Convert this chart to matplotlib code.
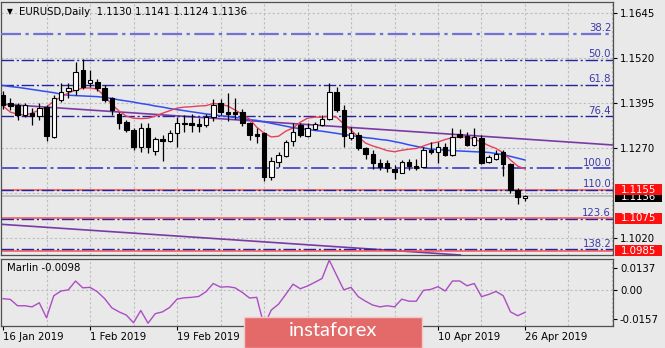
import matplotlib
matplotlib.use("Agg")
import matplotlib.pyplot as plt
import matplotlib.transforms as mtransforms
from matplotlib.patches import Rectangle

# ---- EURUSD daily candles (16 Jan 2019 .. 26 Apr 2019) ----
opens = [1.1417, 1.1395, 1.1389, 1.1362, 1.1367, 1.1359, 1.1385, 1.1301, 1.1403, 1.1429,
         1.1431, 1.1487, 1.1450, 1.1454, 1.1437, 1.1408, 1.1366, 1.1343, 1.1320, 1.1274,
         1.1326, 1.1262, 1.1295, 1.1291, 1.1311, 1.1340, 1.1339, 1.1336, 1.1334, 1.1357,
         1.1394, 1.1371, 1.1369, 1.1371, 1.1339, 1.1309, 1.1311, 1.1190, 1.1232, 1.1249,
         1.1289, 1.1334, 1.1304, 1.1323, 1.1334, 1.1350, 1.1426, 1.1376, 1.1299, 1.1306,
         1.1271, 1.1253, 1.1230, 1.1230, 1.1213, 1.1201, 1.1232, 1.1220, 1.1218, 1.1264,
         1.1260, 1.1272, 1.1251, 1.1309, 1.1303, 1.1278, 1.1297, 1.1232, 1.1241, 1.1260,
         1.1226, 1.1153, 1.1130]
highs = [1.1428, 1.1409, 1.1395, 1.1395, 1.1381, 1.1395, 1.1389, 1.1417, 1.1451, 1.1451,
         1.1509, 1.1517, 1.1487, 1.1462, 1.1445, 1.1412, 1.1371, 1.1348, 1.1326, 1.1339,
         1.1340, 1.1301, 1.1306, 1.1320, 1.1357, 1.1362, 1.1366, 1.1353, 1.1366, 1.1406,
         1.1406, 1.1422, 1.1410, 1.1380, 1.1343, 1.1325, 1.1315, 1.1246, 1.1260, 1.1292,
         1.1339, 1.1339, 1.1339, 1.1343, 1.1362, 1.1450, 1.1440, 1.1389, 1.1329, 1.1315,
         1.1274, 1.1264, 1.1241, 1.1237, 1.1223, 1.1237, 1.1241, 1.1241, 1.1274, 1.1288,
         1.1288, 1.1283, 1.1325, 1.1322, 1.1315, 1.1327, 1.1306, 1.1251, 1.1264, 1.1264,
         1.1229, 1.1160, 1.1141]
lows = [1.1378, 1.1376, 1.1348, 1.1356, 1.1334, 1.1348, 1.1289, 1.1298, 1.1399, 1.1409,
        1.1417, 1.1434, 1.1439, 1.1428, 1.1399, 1.1362, 1.1323, 1.1315, 1.1264, 1.1258,
        1.1256, 1.1251, 1.1234, 1.1288, 1.1274, 1.1315, 1.1315, 1.1315, 1.1329, 1.1345,
        1.1362, 1.1345, 1.1352, 1.1332, 1.1292, 1.1283, 1.1178, 1.1181, 1.1218, 1.1246,
        1.1276, 1.1301, 1.1301, 1.1320, 1.1332, 1.1348, 1.1371, 1.1274, 1.1292, 1.1264,
        1.1241, 1.1213, 1.1209, 1.1204, 1.1183, 1.1200, 1.1209, 1.1209, 1.1216, 1.1255,
        1.1229, 1.1248, 1.1248, 1.1297, 1.1276, 1.1276, 1.1226, 1.1229, 1.1237, 1.1192,
        1.1144, 1.1116, 1.1124]
closes = [1.1389, 1.1388, 1.1362, 1.1389, 1.1359, 1.1381, 1.1304, 1.1409, 1.1426, 1.1437,
          1.1481, 1.1439, 1.1459, 1.1436, 1.1403, 1.1376, 1.1339, 1.1320, 1.1274, 1.1326,
          1.1274, 1.1295, 1.1291, 1.1311, 1.1341, 1.1337, 1.1335, 1.1331, 1.1357, 1.1389,
          1.1369, 1.1366, 1.1364, 1.1339, 1.1306, 1.1304, 1.1190, 1.1234, 1.1251, 1.1286,
          1.1315, 1.1306, 1.1325, 1.1336, 1.1350, 1.1425, 1.1376, 1.1304, 1.1311, 1.1271,
          1.1253, 1.1228, 1.1218, 1.1215, 1.1204, 1.1232, 1.1220, 1.1215, 1.1264, 1.1260,
          1.1272, 1.1251, 1.1300, 1.1301, 1.1278, 1.1300, 1.1228, 1.1246, 1.1253, 1.1226,
          1.1153, 1.1133, 1.1136]

# fast (red) and slow (blue) moving averages
ma_fast = [1.1387, 1.1370, 1.1364, 1.1362, 1.1367, 1.1376, 1.1384, 1.1401, 1.1412, 1.1423,
           1.1431, 1.1437, 1.1437, 1.1434, 1.1414, 1.1392, 1.1373, 1.1359, 1.1353, 1.1352,
           1.1353, 1.1359, 1.1367, 1.1374, 1.1381, 1.1384, 1.1385, 1.1387, 1.1388, 1.1394,
           1.1392, 1.1387, 1.1376, 1.1364, 1.1351, 1.1328, 1.1312, 1.1301, 1.1303, 1.1317,
           1.1326, 1.1342, 1.1353, 1.1356, 1.1356, 1.1359, 1.1356, 1.1337, 1.1320, 1.1301,
           1.1284, 1.1276, 1.1270, 1.1263, 1.1260, 1.1264, 1.1267, 1.1269, 1.1276, 1.1283,
           1.1287, 1.1294, 1.1299, 1.1301, 1.1301, 1.1295, 1.1287, 1.1277, 1.1269, 1.1257,
           1.1237, 1.1220, 1.1212]
ma_slow = [1.1444, 1.1441, 1.1439, 1.1436, 1.1433, 1.1430, 1.1427, 1.1424, 1.1420, 1.1417,
           1.1416, 1.1415, 1.1414, 1.1413, 1.1411, 1.1408, 1.1404, 1.1401, 1.1398, 1.1394,
           1.1391, 1.1387, 1.1384, 1.1380, 1.1377, 1.1374, 1.1371, 1.1368, 1.1365, 1.1363,
           1.1360, 1.1358, 1.1355, 1.1353, 1.1349, 1.1347, 1.1343, 1.1339, 1.1335, 1.1331,
           1.1327, 1.1324, 1.1322, 1.1319, 1.1317, 1.1314, 1.1311, 1.1308, 1.1305, 1.1302,
           1.1299, 1.1297, 1.1294, 1.1292, 1.1288, 1.1284, 1.1279, 1.1275, 1.1271, 1.1267,
           1.1266, 1.1264, 1.1263, 1.1262, 1.1261, 1.1260, 1.1259, 1.1258, 1.1255, 1.1252,
           1.1247, 1.1242, 1.1237]

# Marlin oscillator
marlin = [-0.0038, -0.0041, -0.0069, -0.0069, -0.0074, -0.0056, -0.0122, -0.0025, -0.0004, 0.0001,
          0.0040, 0.0010, 0.0012, -0.0007, -0.0037, -0.0078, -0.0096, -0.0110, -0.0144, -0.0090,
          -0.0146, -0.0104, -0.0096, -0.0076, -0.0040, -0.0034, -0.0032, -0.0028, -0.0007, 0.0029,
          0.0013, 0.0015, 0.0010, -0.0010, -0.0035, -0.0032, -0.0157, -0.0088, -0.0062, -0.0019,
          0.0026, 0.0006, 0.0018, 0.0034, 0.0051, 0.0132, 0.0066, 0.0001, 0.0012, -0.0029,
          -0.0049, -0.0066, -0.0074, -0.0069, -0.0074, -0.0040, -0.0049, -0.0049, -0.0001, 0.0003,
          0.0015, -0.0004, 0.0040, 0.0040, 0.0019, 0.0029, -0.0029, -0.0019, -0.0006, -0.0025,
          -0.0096, -0.0113, -0.0098]
marlin_range = (-0.0157, 0.0137)
marlin_last = "-0.0098"

# Fibonacci expansion levels
fib_names = ["38.2", "50.0", "61.8", "76.4", "100.0", "110.0", "123.6", "138.2"]
fib_prices = [1.1588, 1.1516, 1.1446, 1.1358, 1.1214, 1.1154, 1.1074, 1.0989]

# horizontal support levels and the current bid
level_prices = [1.1155, 1.1075, 1.0985]
bid_price = 1.1136
ohlc_header = "EURUSD,Daily  1.1130 1.1141 1.1124 1.1136"

# channel lines (bar index, price) anchors
channel_upper = [(0, 1.1392), (72, 1.1295)]
channel_lower = [(0, 1.1058), (72, 1.0961)]

price_ticks = [1.1645, 1.1520, 1.1395, 1.1270, 1.1020]
price_grid = [1.1645, 1.1520, 1.1395, 1.1270, 1.1145, 1.1020]
date_ticks = [0, 12, 24, 36, 48, 60, 72]
date_labels = ["16 Jan 2019", "1 Feb 2019", "19 Feb 2019", "10 Apr 2019", "26 Apr 2019"]
date_label_bars = [0, 12, 24, 60, 72]

# ---------------------------------------------------------------
W, H = 665, 348
BG = "#e9e9e9"
FS = 7.3
plt.rcParams["font.family"] = ["DejaVu Sans"]

fig = plt.figure(figsize=(W / 100, H / 100), dpi=100, facecolor=BG)


def px_rect(x0, y0, x1, y1):
    return [x0 / W, 1 - y1 / H, (x1 - x0) / W, (y1 - y0) / H]


ax = fig.add_axes(px_rect(1, 2, 613, 255), facecolor=BG)
ax2 = fig.add_axes(px_rect(1, 259, 613, 325.7), facecolor=BG)

n = len(closes)
xs = list(range(n))
xlim = (-0.28, 84.14)

for a in (ax, ax2):
    a.set_xlim(*xlim)
    for s in a.spines.values():
        s.set_color("#505050")
        s.set_linewidth(0.9)
    for gx in range(6, 85, 6):
        a.axvline(gx, color="#bdbdbd", lw=0.8, ls=(0, (2, 2)), zorder=0)

ax.set_ylim(1.0973, 1.1676)
for gy in price_grid:
    ax.axhline(gy, color="#bdbdbd", lw=0.8, ls=(0, (2, 2)), zorder=0)

# channel lines
ax.axline(channel_upper[0], channel_upper[1], color="#7a3aa6", lw=1.2, zorder=2)
ax.axline(channel_lower[0], channel_lower[1], color="#7a3aa6", lw=1.2, zorder=2)

# support levels (red) and bid line
for lp in level_prices:
    ax.axhline(lp, color="#ff5050", lw=1.1, zorder=2)
ax.axhline(bid_price, color="#b8b8b8", lw=1.2, zorder=1)

# fibonacci levels
fib_style = {"38.2": ("#7272d4", 1.6), "100.0": ("#5555cc", 1.4)}
trans_lbl = mtransforms.blended_transform_factory(ax.transAxes, ax.transData)
for name, fp in zip(fib_names, fib_prices):
    col, lw = fib_style.get(name, ("#24249e", 1.0))
    ax.axhline(fp, color=col, lw=lw, dashes=(9, 2, 1.5, 2), zorder=3)
    ax.text(0.997, fp + 0.0002, name, transform=trans_lbl, ha="right", va="bottom",
            fontsize=FS, color="#3a3aa8", zorder=6)

# moving averages
ax.plot(xs, ma_slow, color="#2f4ff0", lw=1.1, zorder=4)
ax.plot(xs, ma_fast, color="#e8405a", lw=1.0, zorder=4)

# candles
body_w = 0.62
for i in xs:
    o, h, l, c = opens[i], highs[i], lows[i], closes[i]
    ax.vlines(i, l, h, color="black", lw=0.9, zorder=5)
    if abs(c - o) < 0.00008:
        ax.hlines(o, i - body_w / 2, i + body_w / 2, color="black", lw=1.2, zorder=6)
    else:
        face = "white" if c > o else "black"
        ax.add_patch(Rectangle((i - body_w / 2, min(o, c)), body_w, abs(c - o),
                               facecolor=face, edgecolor="black", lw=0.8, zorder=6))

# right price scale
ax.yaxis.tick_right()
ax.set_yticks(price_ticks)
ax.set_yticklabels([f"{p:.4f}" for p in price_ticks])
ax.tick_params(axis="y", direction="out", length=3, width=0.8, pad=2,
               labelsize=FS, colors="black")
ax.set_xticks([])

# price boxes on the scale (bid box sits underneath the 1.1155 box)
half_h = 0.00155
ax.add_patch(Rectangle((1.0035, bid_price - half_h), 0.0765, 2 * half_h, transform=trans_lbl,
                       facecolor="black", edgecolor="none", clip_on=False, zorder=7))
ax.text(1.0417, bid_price - 0.0002, f"{bid_price:.4f}", transform=trans_lbl, ha="center",
        va="center", fontsize=FS, color="white", clip_on=False, zorder=7)
for lp in level_prices:
    ax.add_patch(Rectangle((1.0035, lp - half_h), 0.0765, 2 * half_h, transform=trans_lbl,
                           facecolor="#ff1010", edgecolor="none", clip_on=False, zorder=8))
    ax.text(1.0417, lp, f"{lp:.4f}", transform=trans_lbl, ha="center", va="center",
            fontsize=FS, color="white", clip_on=False, zorder=9)

# header
fig.text(7 / W, 1 - 12 / H, "\u25BC", fontsize=5.5, va="center", ha="left", color="black")
fig.text(19 / W, 1 - 12 / H, ohlc_header, fontsize=FS, va="center", ha="left", color="black")

# ---- Marlin panel ----
ax2.set_ylim(*marlin_range)
ax2.axhline(0, color="#bdbdbd", lw=0.8, ls=(0, (2, 2)), zorder=0)
ax2.plot(xs, marlin, color="#ad4cc4", lw=1.0, zorder=3)
ax2.yaxis.tick_right()
lo, hi = marlin_range
ax2.set_yticks([lo + 0.870 * (hi - lo), 0.0, lo + 0.096 * (hi - lo)])
ax2.set_yticklabels([f"{hi:.4f}", "0.00", f"{lo:.4f}"])
ax2.tick_params(axis="y", direction="out", length=3, width=0.8, pad=2,
                labelsize=FS, colors="black")
ax2.set_xticks(date_ticks)
ax2.set_xticklabels([])
ax2.tick_params(axis="x", direction="out", length=3, width=0.8)
ax2.text(0.01, 0.87, "Marlin " + marlin_last, transform=ax2.transAxes, fontsize=FS,
         va="center", ha="left", color="black")

trans_date = mtransforms.blended_transform_factory(ax2.transData, fig.transFigure)
for b, lab in zip(date_label_bars, date_labels):
    ax2.text(b + 0.05, 1 - 337 / H, lab, transform=trans_date, fontsize=FS,
             ha="left", va="center", color="black", clip_on=False)

# watermark badge
fig.patches.append(Rectangle((244 / W, 0), (422 - 244) / W, (348 - 316.7) / H,
                             transform=fig.transFigure, facecolor="#e46a6a",
                             edgecolor="#f3c9c9", lw=1.0, zorder=20))
fig.text(333 / W, 1 - 331 / H, "instaforex", fontsize=14.5, color="white",
         family=["Lato", "DejaVu Sans"], ha="center", va="center", zorder=21)

fig.savefig("out.png", dpi=100, facecolor=BG)
